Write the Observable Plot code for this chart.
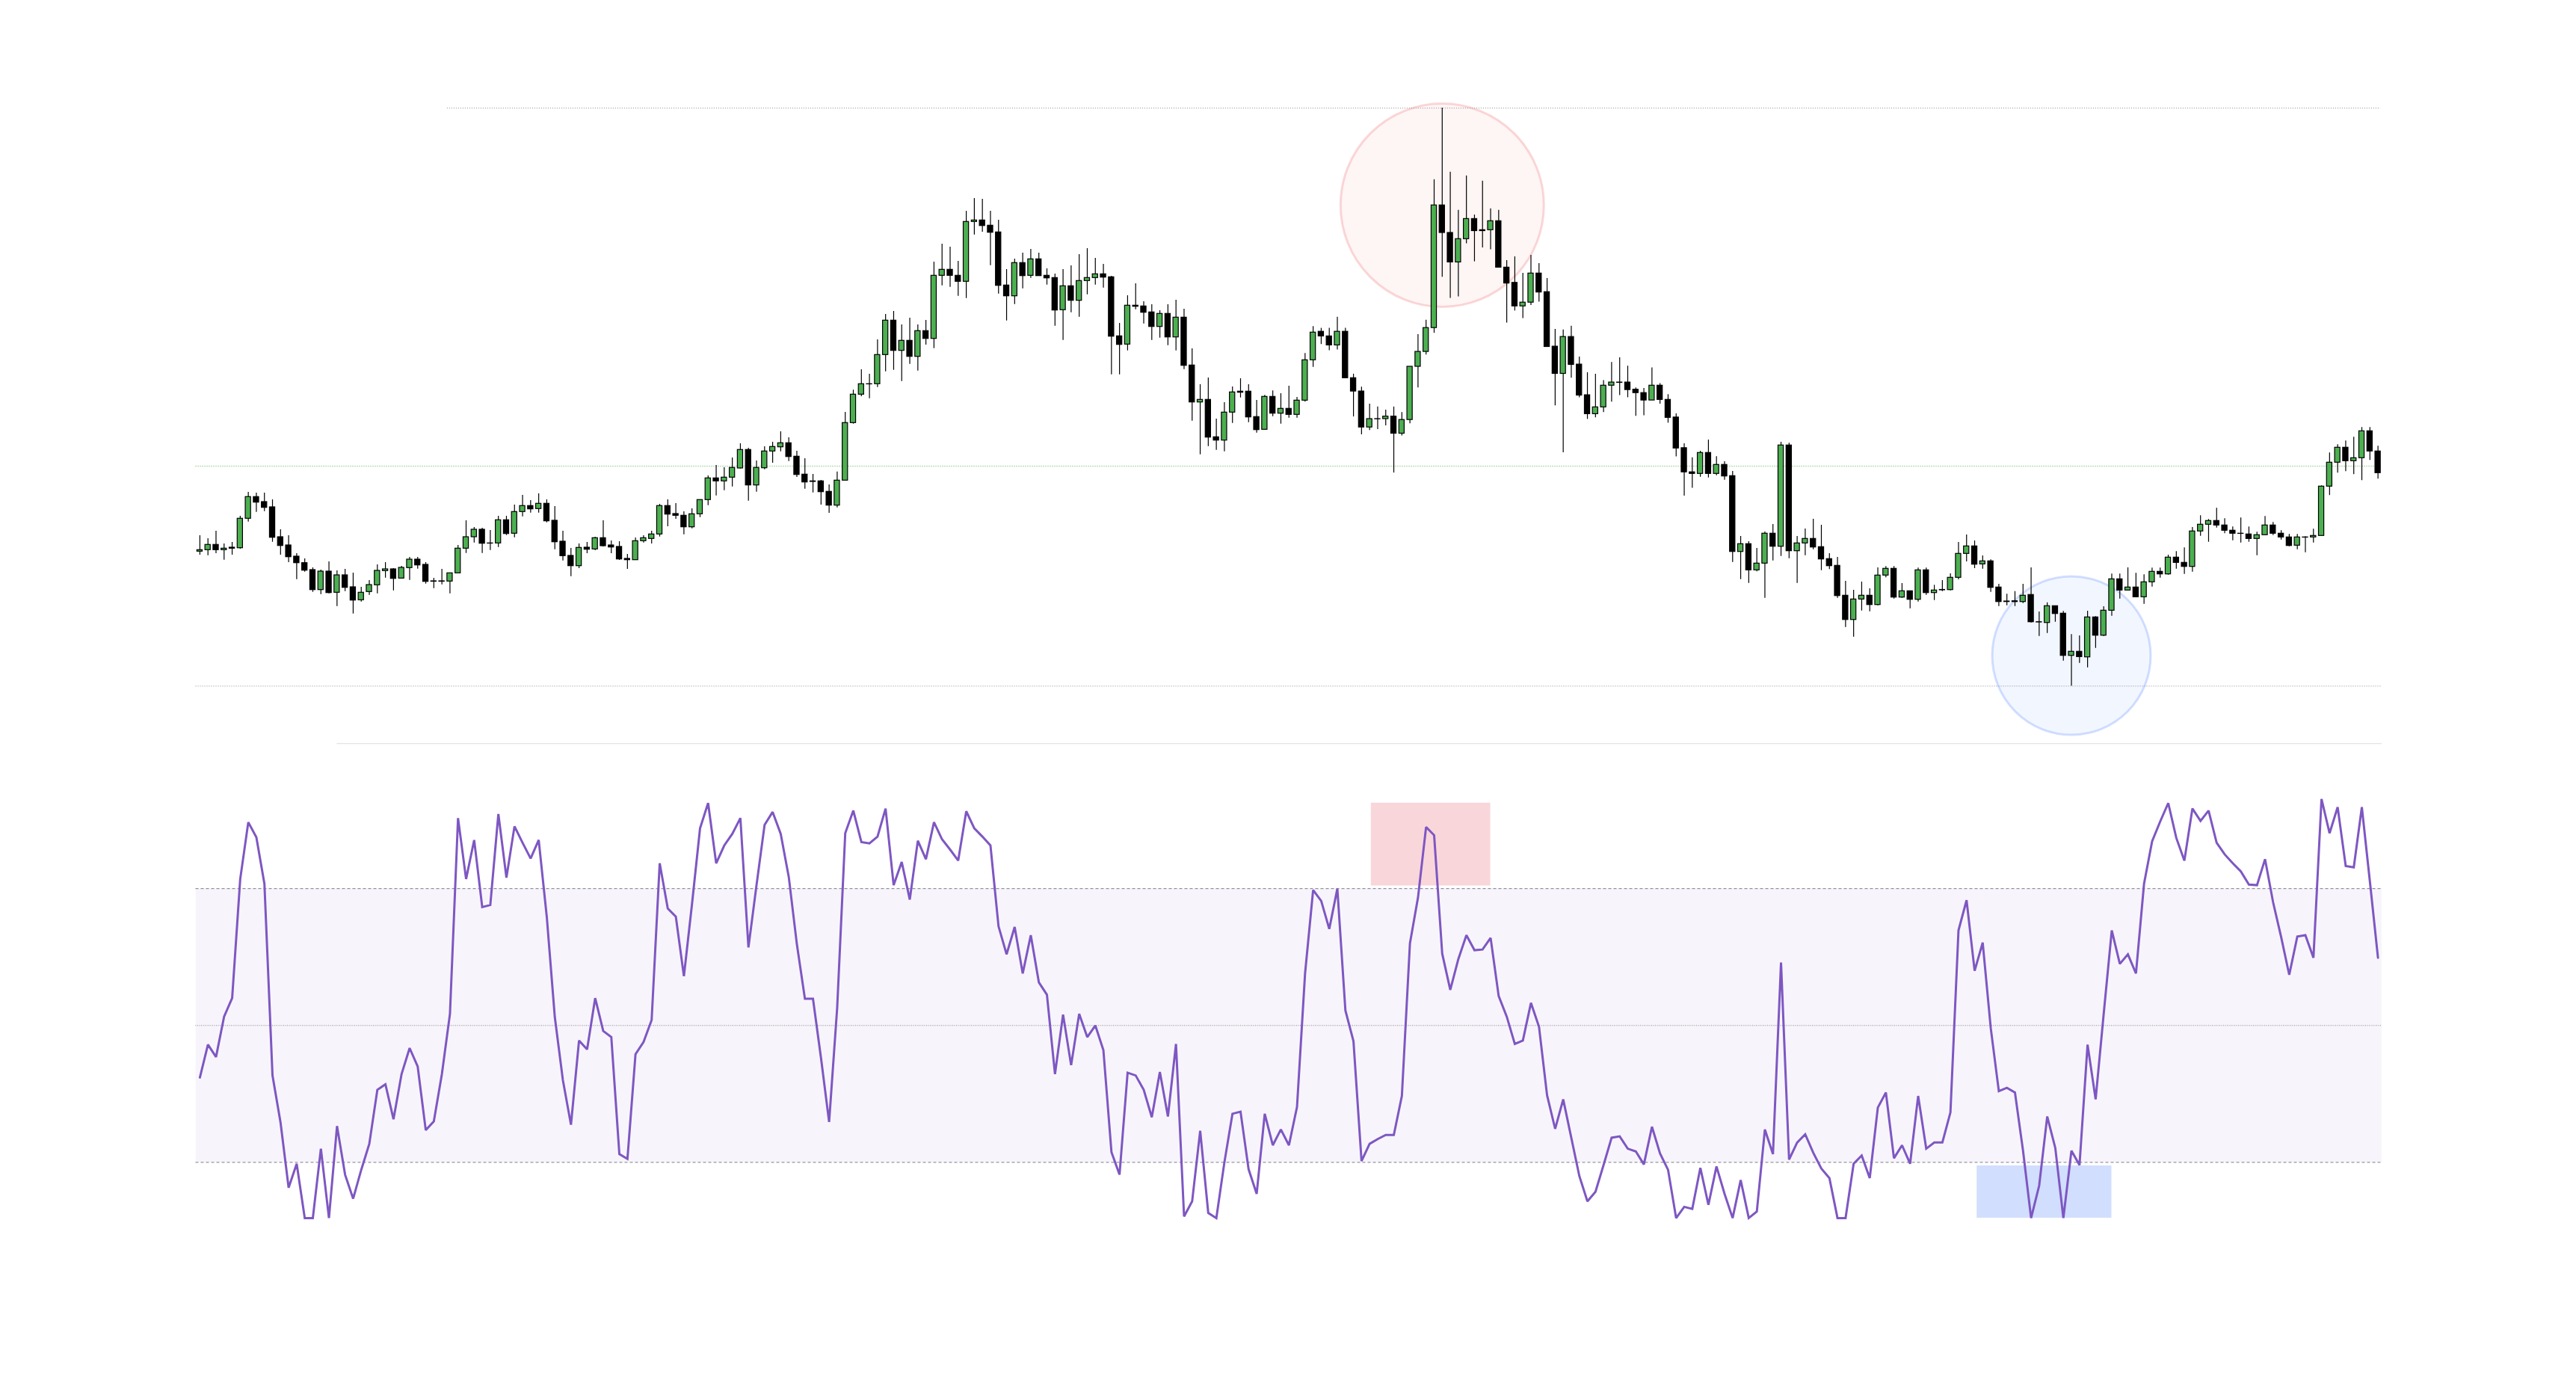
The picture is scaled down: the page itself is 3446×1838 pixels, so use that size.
<!DOCTYPE html>
<html>
<head>
<meta charset="utf-8">
<script src="https://cdn.jsdelivr.net/npm/d3@7"></script>
<script src="https://cdn.jsdelivr.net/npm/@observablehq/plot@0.6"></script>
<style>
html, body { margin: 0; padding: 0; background: #ffffff; }
#chart svg { display: block; }
</style>
</head>
<body>
<div id="chart"></div>
<script>
// ---------- price data (one entry per session) ----------
const open = [
38.57,38.77,39.47,38.77,39.1,39.03,42.97,45.87,45.2,44.5,
40.5,39.4,37.9,37.03,36.1,33.43,35.9,33.07,35.4,33.8,
32.07,33.17,34.07,35.97,36.2,34.97,36.37,37.5,36.8,34.6,
34.55,34.57,35.67,38.97,40.5,41.5,39.67,39.67,42.77,40.97,
43.87,44.67,44.27,44.97,42.7,39.9,38.0,
36.63,39.1,38.87,40.37,39.4,39.2,37.6,37.43,39.97,40.27,
40.87,44.67,43.6,43.37,41.83,43.57,45.47,48.37,47.97,48.47,
49.7,52.17,47.43,49.73,51.97,52.53,53.07,51.27,48.87,47.97,
47.97,46.57,44.73,48.07,55.77,59.57,60.97,60.97,64.87,69.47,
65.43,66.77,64.63,68.07,67.03,
75.47,76.27,75.47,74.67,82.67,82.87,82.17,81.27,74.17,72.73,
77.17,75.47,77.67,75.47,75.17,70.87,74.07,72.13,74.77,75.17,
75.67,75.27,67.37,66.27,71.47,71.37,70.57,68.63,70.37,67.23,
69.87,63.47,58.53,58.87,53.87,53.43,57.17,59.97,59.97,56.57,
54.87,59.27,57.03,57.67,56.87,58.77,64.17,
67.98,67.36,66.16,67.98,61.77,59.99,55.18,56.3,56.3,56.63,
54.35,56.18,63.3,65.29,68.48,84.88,81.2,77.26,80.37,83.06,
81.45,81.57,82.77,76.56,74.52,71.38,71.88,75.77,73.28,65.99,
62.35,67.28,63.59,59.49,56.96,57.87,60.77,61.19,61.19,60.23,
59.78,58.79,60.77,58.87,56.51,52.41,49.18,
48.97,51.77,48.97,50.17,48.67,38.53,39.57,36.07,36.97,40.97,
39.23,52.77,38.63,39.67,40.27,39.17,37.57,36.67,32.67,29.43,
32.17,32.67,31.43,35.37,36.27,32.43,33.27,32.13,36.07,33.03,
33.4,33.43,35.07,38.27,39.27,36.87,37.27,33.77,31.83,31.93,
31.83,32.77,29.13,29.03,31.27,30.27,24.63,25.17,
24.43,29.77,27.33,30.67,34.87,33.37,33.77,32.47,34.47,35.87,
35.53,37.77,37.07,36.53,41.27,42.17,42.67,42.07,41.37,40.97,
40.87,40.27,40.77,42.07,40.97,40.47,39.37,40.47,40.47,40.67,
47.27,50.47,52.47,50.67,51.07,54.67,51.97
];
const high = [
40.7,40.3,41.3,39.6,39.8,43.3,46.5,46.4,46.4,45.5,
41.5,40.7,38.3,37.6,36.4,36.1,37.2,36.0,36.2,35.7,
33.8,34.7,36.8,37.1,36.3,36.6,37.8,37.8,37.1,35.0,
36.2,35.67,39.4,42.7,41.8,41.7,41.4,43.3,43.3,44.8,
46.1,45.4,46.3,45.5,44.6,41.3,39.0,
39.6,39.8,40.5,42.7,40.0,39.9,38.2,40.4,40.7,41.3,
44.9,45.5,45.0,43.9,44.3,45.47,48.7,50.1,49.8,51.1,
53.0,52.4,50.7,52.6,53.2,54.6,53.8,52.0,51.0,48.9,
48.1,47.5,49.23,57.2,60.17,62.9,62.3,66.9,70.3,70.7,
68.9,69.8,68.9,69.5,77.3,
79.7,79.3,77.4,84.1,85.8,85.7,84.1,82.9,76.3,77.7,
78.5,79.0,78.5,76.4,75.7,76.3,76.8,78.3,79.1,77.8,
77.0,75.4,69.1,72.8,74.4,72.0,71.6,70.8,71.6,72.2,
71.0,65.7,60.9,61.8,56.3,58.5,60.6,61.7,60.9,58.8,
59.47,60.07,59.7,60.7,59.2,65.07,68.67,
68.44,68.44,69.93,68.44,62.31,60.57,58.29,57.92,57.5,57.92,
57.17,63.3,67.61,69.52,88.32,97.89,89.32,84.22,88.82,83.6,
88.12,84.43,84.22,77.51,78.01,75.81,78.21,77.1,75.11,68.31,
68.23,68.73,64.59,62.51,62.31,61.44,63.88,64.5,63.38,60.48,
60.4,63.14,61.06,59.57,57.0,52.99,51.12,
52.0,53.5,51.27,50.6,49.3,40.6,39.9,39.0,41.2,42.2,
53.2,53.07,40.6,41.6,42.9,42.1,38.3,37.8,34.6,33.4,
34.5,33.6,36.4,36.57,36.57,34.3,33.27,36.37,36.37,34.07,
34.7,35.6,39.8,40.8,40.0,38.0,37.47,34.2,32.87,33.23,
34.2,36.4,30.5,31.73,31.27,30.57,27.47,27.3,
30.6,29.87,31.2,35.57,35.57,36.4,35.67,35.47,36.37,36.37,
38.1,38.57,39.07,41.8,43.37,42.87,44.37,42.97,41.87,43.07,
41.87,41.17,43.27,42.47,41.37,40.87,40.87,40.57,41.57,47.37,
51.77,52.87,53.37,53.87,55.17,55.17,52.67
];
const low = [
38.1,38.03,38.3,37.43,38.1,38.9,42.53,43.83,43.93,39.83,
38.1,37.1,34.83,35.83,33.13,32.83,32.93,31.23,33.23,30.23,
31.83,32.73,32.93,35.03,33.33,34.97,34.73,36.23,34.23,33.63,
34.13,32.93,35.67,38.33,39.73,38.33,38.73,39.13,40.73,40.43,
43.23,43.73,43.73,42.43,38.83,37.33,35.23,
36.3,38.3,38.7,39.2,38.3,37.4,36.2,37.43,39.73,39.6,
40.53,41.9,42.9,40.83,41.63,43.13,44.73,46.03,46.73,47.23,
49.63,45.33,46.53,49.53,50.4,51.93,50.63,48.5,46.93,46.43,
44.8,43.7,44.43,48.07,55.63,59.3,59.03,60.53,62.63,62.83,
61.33,63.63,62.73,66.2,65.73,
74.13,73.93,72.73,72.43,80.93,81.3,76.83,73.03,69.43,71.63,
73.73,75.13,75.43,74.23,68.73,66.83,70.53,69.93,72.93,74.23,
73.83,62.23,62.23,65.43,70.93,69.03,66.83,67.13,66.13,65.43,
62.93,56.03,51.53,52.63,52.13,51.93,55.73,59.13,55.83,54.43,
54.87,56.63,55.63,56.43,56.43,58.57,63.23,
66.28,65.46,65.54,61.77,56.59,54.19,54.77,54.89,55.39,49.09,
54.06,55.68,60.48,64.88,67.78,75.27,72.46,72.66,79.75,77.34,
79.21,78.96,76.56,69.14,70.76,69.76,71.5,71.96,65.95,58.08,
51.79,61.77,59.16,56.26,56.47,57.17,58.58,59.45,59.16,56.67,
56.76,58.79,58.29,55.76,51.25,45.99,47.06,
48.53,48.43,48.73,48.13,37.13,34.83,34.33,35.87,32.33,37.33,
37.93,37.63,34.33,38.03,38.83,36.03,36.17,32.33,28.43,27.13,
30.63,30.53,31.33,35.07,32.23,32.33,30.93,31.83,32.73,32.03,
33.23,33.33,34.8,37.2,36.3,36.23,33.13,31.23,31.33,31.23,
31.63,29.03,27.23,27.63,29.13,23.93,20.57,23.63,
23.03,25.63,27.23,29.93,32.23,33.37,32.47,31.53,33.83,35.03,
35.43,36.23,35.53,35.83,40.63,39.83,41.73,40.97,40.03,39.73,
39.83,38.03,40.77,40.73,40.13,39.23,38.83,38.43,39.73,40.67,
46.07,49.07,49.27,48.87,48.07,50.77,48.27
];
const close = [
38.77,39.47,38.77,38.97,38.97,42.97,45.87,45.13,44.43,40.43,
39.33,37.83,37.03,36.03,33.43,35.9,33.03,35.4,33.73,32.03,
33.07,34.1,36.0,36.2,34.93,36.4,37.5,36.73,34.53,34.55,
34.6,35.67,38.97,40.5,41.5,39.63,39.65,42.77,40.93,43.87,
44.67,44.23,44.97,42.63,39.83,37.97,36.63,
39.07,38.83,40.37,39.3,39.13,37.53,37.43,39.97,40.37,40.87,
44.67,43.53,43.37,41.83,43.57,45.47,48.37,47.97,48.47,49.77,
52.17,47.43,49.77,51.97,52.57,53.07,51.23,48.83,47.83,47.9,
46.53,44.73,48.07,55.77,59.57,60.97,60.95,64.87,69.47,65.43,
66.77,64.63,68.07,67.03,75.47,
76.27,75.47,74.67,82.67,82.87,82.13,81.23,74.13,72.73,77.17,
75.43,77.67,75.43,75.13,70.83,74.07,72.13,74.77,75.17,75.67,
75.23,67.33,66.23,71.47,71.33,70.53,68.63,70.37,67.23,69.87,
63.43,58.53,58.87,53.83,53.43,57.17,59.87,59.83,56.53,54.83,
59.27,57.03,57.67,56.87,58.77,64.17,67.87,
67.36,66.16,67.98,61.77,59.99,55.18,56.3,56.28,56.63,54.35,
56.18,63.3,65.29,68.48,84.88,81.2,77.26,80.37,83.06,81.45,
81.57,82.77,76.56,74.44,71.38,71.88,75.77,73.24,65.95,62.35,
67.28,63.55,59.45,56.96,57.87,60.77,61.19,61.15,60.19,59.78,
58.79,60.77,58.87,56.47,52.37,49.18,48.97,
51.77,48.97,50.17,48.63,38.53,39.57,36.07,36.97,40.97,39.23,
52.77,38.63,39.67,40.27,39.13,37.53,36.63,32.63,29.43,32.17,
32.67,31.43,35.37,36.27,32.43,33.27,32.13,36.07,33.03,33.37,
33.45,35.07,38.27,39.27,36.83,37.27,33.73,31.83,31.9,31.83,
32.67,29.13,29.1,31.27,30.23,24.63,25.17,24.47,
29.77,27.33,30.67,34.87,33.37,33.77,32.47,34.47,35.87,35.53,
37.77,37.07,36.53,41.27,42.17,42.67,42.07,41.37,40.97,40.95,
40.27,40.77,42.07,40.97,40.47,39.33,40.47,40.45,40.67,47.27,
50.47,52.47,50.67,51.07,54.67,51.97,49.07
];

// ---------- RSI values (one per session) ----------
const rsi = [
42.4,47.2,45.4,51.3,54.0,71.4,79.7,77.5,70.7,42.7,
35.8,26.3,29.8,20.5,20.0,32.0,20.8,35.3,28.2,24.7,
28.9,32.7,40.6,41.4,36.3,42.9,46.7,44.0,34.7,36.0,
42.9,51.7,80.3,71.4,77.1,67.3,67.6,80.9,71.6,79.1,
76.7,74.4,77.1,65.9,51.2,42.0,35.5,47.8,46.5,54.0,
49.2,48.3,31.2,30.5,45.8,47.6,50.8,73.7,67.1,65.9,
57.2,67.7,78.8,82.5,73.7,76.3,78.0,80.3,61.4,70.5,
79.3,81.2,78.0,71.7,61.9,53.9,53.9,45.2,35.9,52.6,
78.1,81.4,76.8,76.6,77.6,81.7,70.5,73.9,68.4,77.0,
74.3,79.7,
77.2,75.7,74.1,81.3,78.8,77.6,76.3,64.5,60.4,64.4,
57.6,63.2,56.3,54.5,42.9,51.6,44.2,51.7,48.3,50.0,
46.4,31.5,28.2,43.1,42.7,40.6,36.6,43.2,36.7,47.3,
22.1,24.3,34.6,22.6,21.0,30.0,37.1,37.4,29.0,25.4,
37.1,32.5,34.8,32.5,38.1,57.6,69.8,68.2,64.1,70.0,
52.2,47.7,30.2,32.7,33.4,34.0,34.0,39.7,62.0,68.7,
79.0,77.8,60.5,55.2,59.7,63.2,61.0,61.1,62.8,54.3,
51.3,47.3,47.8,53.3,49.8,39.8,34.9,39.2,33.6,28.0,
24.3,25.7,29.6,33.6,33.8,32.0,31.6,29.7,35.2,31.3,
28.9,
20.5,23.5,23.2,29.2,23.8,29.4,25.4,19.5,27.4,20.5,
22.8,34.8,31.2,59.2,30.4,32.9,34.1,31.4,29.1,27.7,
21.0,20.0,29.8,31.0,27.7,38.0,40.2,30.6,32.5,29.8,
39.7,32.0,32.9,32.9,37.3,63.9,68.3,58.0,62.1,49.6,
40.4,40.9,40.2,31.7,20.5,26.6,36.7,32.1,20.5,31.7,
29.6,47.2,39.2,51.7,63.9,59.0,60.4,57.6,70.7,76.9,
79.8,82.5,77.4,74.1,81.7,79.9,81.4,76.7,75.0,73.7,
72.5,70.6,70.5,74.3,68.0,62.9,57.4,63.0,63.2,59.9,
83.1,78.1,81.9,73.3,73.1,81.9,71.0,59.9
];

// ---------- reference levels and highlights ----------
const priceDomain = [18.3, 102.3];
const priceMidLevel = 50;
const topLevelStart = 31;            // session where the high-water line begins
const rsiDomain = [21.86, 91.19];
const rsiBand = [30, 70];
const rsiMid = 50;
const rsiCeilingStart = 17;
const peakSpot = {i: 154, price: 84.9};
const troughSpot = {i: 232, price: 24.65};
const rsiZones = [
  {x1: 145.2, x2: 160.0, y1: 70.4, y2: 82.5, fill: "#f9d6da"},
  {x1: 220.3, x2: 237.0, y1: 20.0, y2: 29.5, fill: "#d1defd"}
];

const n = close.length;
const idx = d3.range(n);
const candles = idx.map(i => ({
  i, open: open[i], high: high[i], low: low[i], close: close[i],
  fill: close[i] >= open[i] ? "#4caf50" : "#000000"
}));
const maxHigh = d3.max(high);
const minLow = d3.min(low);

const W = 3446;
const mL = 261.5, mR = 260;

const pricePlot = Plot.plot({
  width: W,
  height: 990,
  marginLeft: mL,
  marginRight: mR,
  marginTop: 100,
  marginBottom: 50,
  x: {type: "band", domain: idx, paddingInner: 0.34, paddingOuter: 0.17, align: 0.5, axis: null},
  y: {domain: priceDomain, axis: null},
  color: {type: "identity"},
  marks: [
    Plot.dot([peakSpot], {x: "i", y: "price", r: 136, fill: "#ef5350", fillOpacity: 0.06, stroke: "#ef5350", strokeOpacity: 0.22, strokeWidth: 3}),
    Plot.dot([troughSpot], {x: "i", y: "price", r: 106, fill: "#2962ff", fillOpacity: 0.06, stroke: "#2962ff", strokeOpacity: 0.2, strokeWidth: 3}),
    Plot.ruleY([priceMidLevel], {stroke: "#4caf50", strokeWidth: 1, strokeDasharray: "1,2"}),
    Plot.ruleY([maxHigh], {x1: topLevelStart, x2: n - 1, stroke: "#8a8a8a", strokeWidth: 1, strokeDasharray: "1,2"}),
    Plot.ruleY([minLow], {stroke: "#8a8a8a", strokeWidth: 1, strokeDasharray: "1,2"}),
    Plot.ruleX(candles, {x: "i", y1: "low", y2: "high", stroke: "#000", strokeWidth: 1.2}),
    Plot.barY(candles, {x: "i", y1: "open", y2: "close", fill: "fill", stroke: "#000", strokeWidth: 1.2})
  ]
});

const rsiPoints = rsi.map((v, i) => ({i, v}));

const rsiPlot = Plot.plot({
  width: W,
  height: 848,
  marginLeft: mL,
  marginRight: mR,
  marginTop: 4.2,
  marginBottom: 209.1,
  x: {domain: [-0.5, n - 0.5], axis: null},
  y: {domain: rsiDomain, clamp: true, axis: null},
  color: {type: "identity"},
  marks: [
    Plot.rect([rsiBand], {x1: -0.5, x2: n - 0.5, y1: d => d[0], y2: d => d[1], fill: "#7e57c2", fillOpacity: 0.06}),
    Plot.rect(rsiZones, {x1: "x1", x2: "x2", y1: "y1", y2: "y2", fill: "fill"}),
    Plot.ruleY(rsiBand, {stroke: "#7a7a85", strokeWidth: 1, strokeDasharray: "4,3"}),
    Plot.ruleY([rsiMid], {stroke: "#8a8a8a", strokeWidth: 1, strokeDasharray: "1,1.5"}),
    Plot.ruleY([rsiDomain[1]], {x1: rsiCeilingStart, x2: n - 0.5, stroke: "#e4e4e4", strokeWidth: 1.2}),
    Plot.line(rsiPoints, {x: "i", y: "v", stroke: "#7e57c2", strokeWidth: 3, strokeLinejoin: "miter", strokeMiterlimit: 2})
  ]
});

document.getElementById("chart").append(pricePlot, rsiPlot);
</script>
</body>
</html>
